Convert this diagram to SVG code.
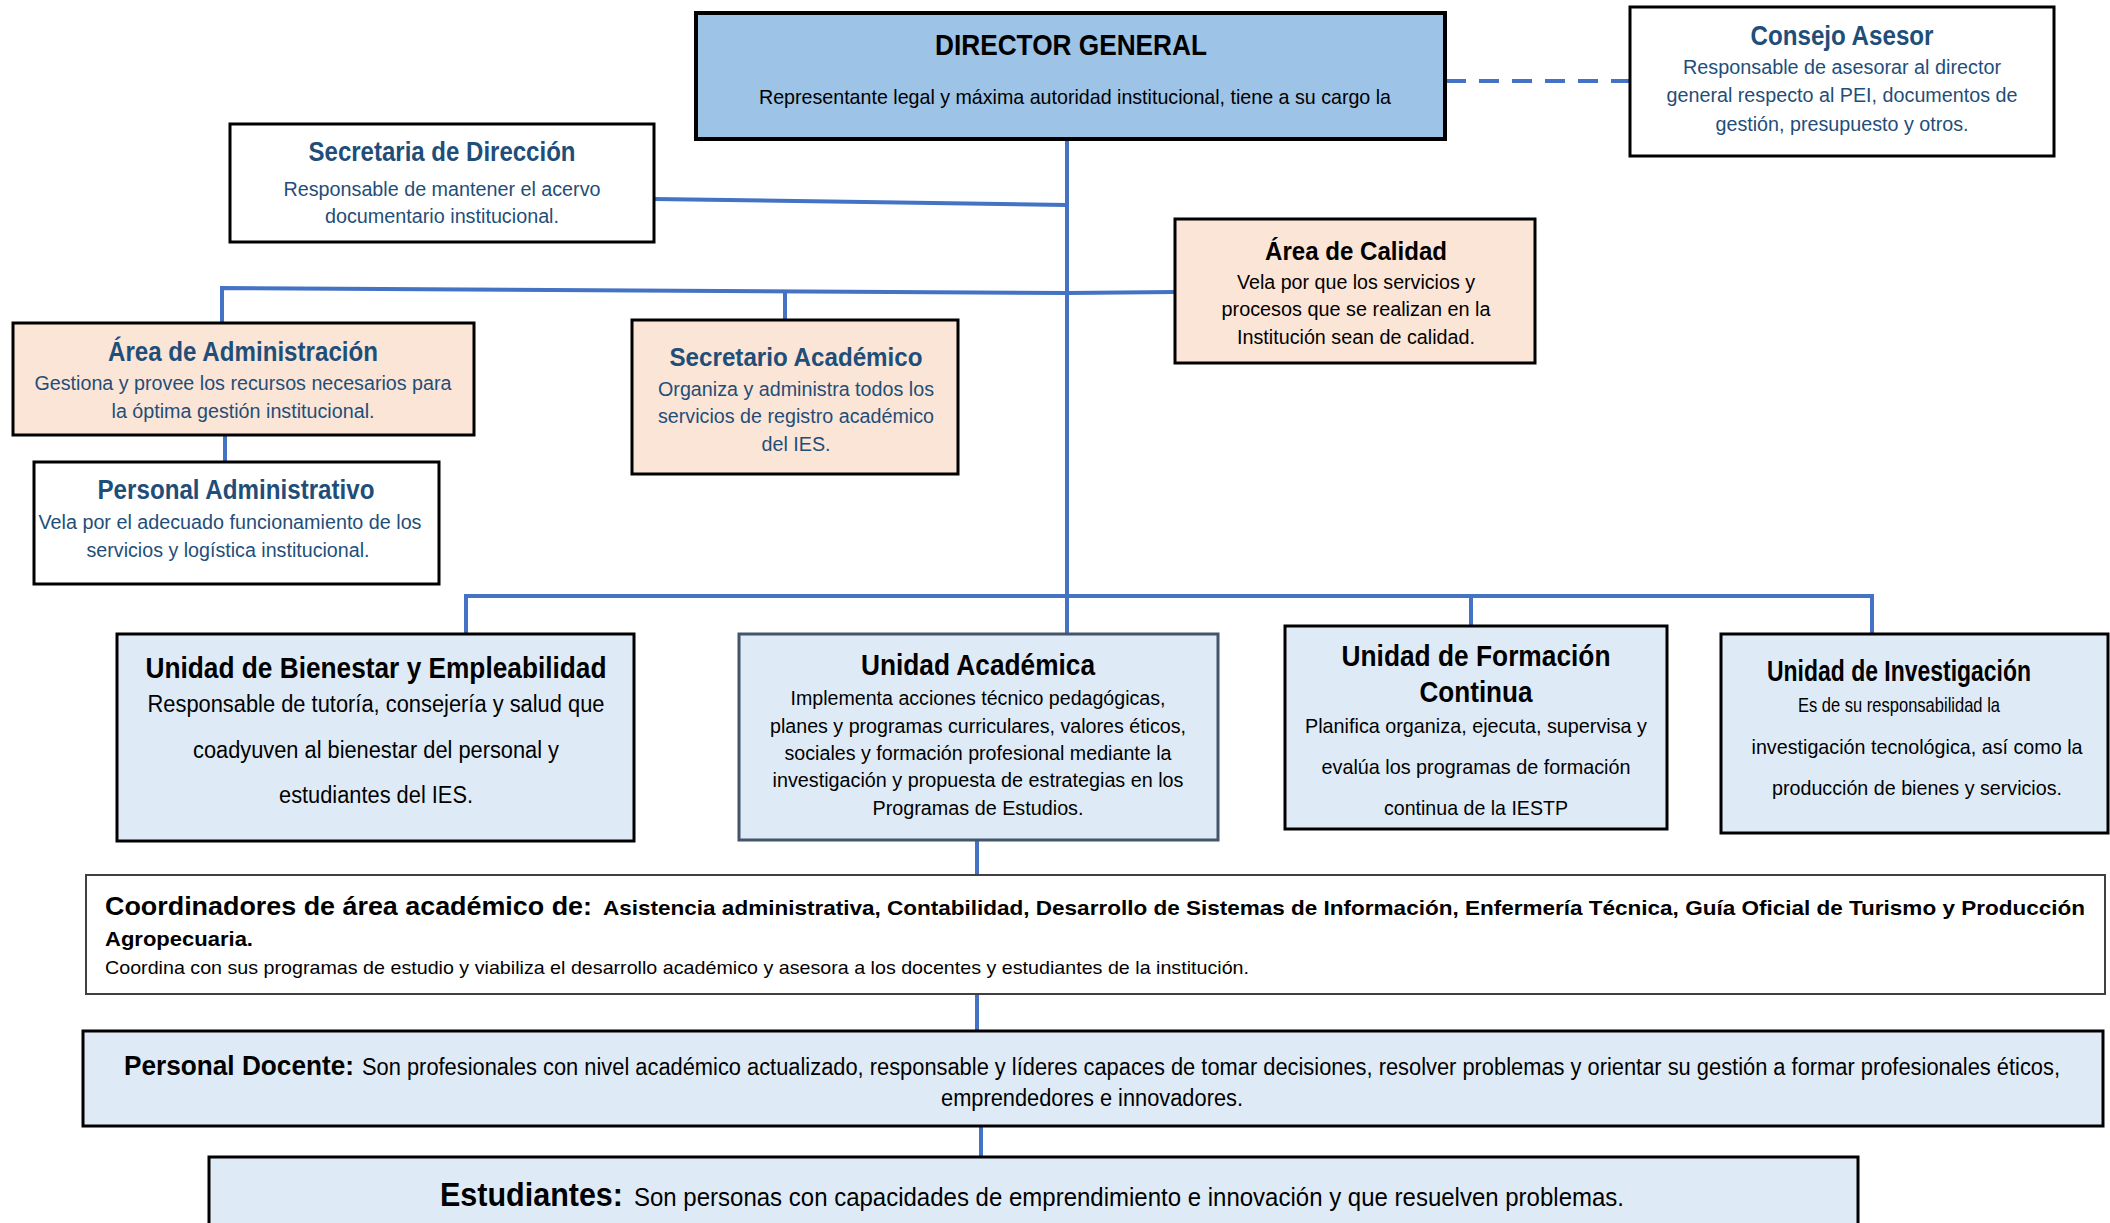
<svg xmlns="http://www.w3.org/2000/svg" width="2110" height="1223" viewBox="0 0 2110 1223">
<style>
text{font-family:"Liberation Sans Narrow","Arial Narrow","Liberation Sans",Arial,sans-serif;text-anchor:middle}
.b{font-weight:bold}
.db{fill:#1F4E79}
.k{fill:#000}
.st{text-anchor:start}
.box{stroke:#000;stroke-width:3}
.peach{fill:#FBE5D6}
.lblue{fill:#DEEBF7}
.white{fill:#fff}
.con{stroke:#4472C4;stroke-width:4;fill:none}
</style>
<rect width="2110" height="1223" fill="#fff"/>
<g id="connectors">
<line class="con" x1="1067" y1="140" x2="1067" y2="634"/>
<line class="con" x1="1446" y1="81" x2="1629" y2="81" stroke-dasharray="20,13"/>
<line class="con" x1="654" y1="199" x2="1067" y2="205"/>
<polyline class="con" points="222,323 222,288 1067,293 1175,292"/>
<line class="con" x1="785" y1="292" x2="785" y2="320"/>
<line class="con" x1="225" y1="435" x2="225" y2="462"/>
<polyline class="con" points="466,634 466,596 1872,596 1872,634"/>
<line class="con" x1="1471" y1="596" x2="1471" y2="626"/>
<line class="con" x1="977" y1="840" x2="977" y2="875"/>
<line class="con" x1="977" y1="994" x2="977" y2="1031"/>
<line class="con" x1="981" y1="1126" x2="981" y2="1157"/>
</g>
<g id="director-general">
<rect x="696" y="13" width="749" height="126" fill="#9DC3E6" stroke="#000" stroke-width="4"/>
<text class="b k" x="1071" y="55" font-size="30" textLength="272" lengthAdjust="spacingAndGlyphs">DIRECTOR GENERAL</text>
<text class="k" x="1075" y="104" font-size="21" textLength="632" lengthAdjust="spacingAndGlyphs">Representante legal y máxima autoridad institucional, tiene a su cargo la</text>
</g>
<g id="consejo-asesor">
<rect class="box white" x="1630" y="7" width="424" height="149"/>
<text class="b db" x="1842" y="45" font-size="27" textLength="183" lengthAdjust="spacingAndGlyphs">Consejo Asesor</text>
<text class="db" x="1842" y="74" font-size="20" textLength="318" lengthAdjust="spacingAndGlyphs">Responsable de asesorar al director</text>
<text class="db" x="1842" y="102" font-size="20" textLength="351" lengthAdjust="spacingAndGlyphs">general respecto al PEI, documentos de</text>
<text class="db" x="1842" y="131" font-size="20" textLength="253" lengthAdjust="spacingAndGlyphs">gestión, presupuesto y otros.</text>
</g>
<g id="secretaria-direccion">
<rect class="box white" x="230" y="124" width="424" height="118"/>
<text class="b db" x="442" y="161" font-size="27" textLength="267" lengthAdjust="spacingAndGlyphs">Secretaria de Dirección</text>
<text class="db" x="442" y="196" font-size="20" textLength="317" lengthAdjust="spacingAndGlyphs">Responsable de mantener el acervo</text>
<text class="db" x="442" y="223" font-size="20" textLength="234" lengthAdjust="spacingAndGlyphs">documentario institucional.</text>
</g>
<g id="area-administracion">
<rect class="box peach" x="13" y="323" width="461" height="112"/>
<text class="b db" x="243" y="361" font-size="27" textLength="270" lengthAdjust="spacingAndGlyphs">Área de Administración</text>
<text class="db" x="243" y="390" font-size="20" textLength="417" lengthAdjust="spacingAndGlyphs">Gestiona y provee los recursos necesarios para</text>
<text class="db" x="243" y="418" font-size="20" textLength="263" lengthAdjust="spacingAndGlyphs">la óptima gestión institucional.</text>
</g>
<g id="personal-administrativo">
<rect class="box white" x="34" y="462" width="405" height="122"/>
<text class="b db" x="236" y="499" font-size="27" textLength="277" lengthAdjust="spacingAndGlyphs">Personal Administrativo</text>
<text class="db" x="230" y="529" font-size="20" textLength="383" lengthAdjust="spacingAndGlyphs">Vela por el adecuado funcionamiento de los</text>
<text class="db" x="228" y="557" font-size="20" textLength="283" lengthAdjust="spacingAndGlyphs">servicios y logística institucional.</text>
</g>
<g id="secretario-academico">
<rect class="box peach" x="632" y="320" width="326" height="154"/>
<text class="b db" x="796" y="366" font-size="26" textLength="253" lengthAdjust="spacingAndGlyphs">Secretario Académico</text>
<text class="db" x="796" y="396" font-size="20" textLength="276" lengthAdjust="spacingAndGlyphs">Organiza y administra todos los</text>
<text class="db" x="796" y="423" font-size="20" textLength="276" lengthAdjust="spacingAndGlyphs">servicios de registro académico</text>
<text class="db" x="796" y="451" font-size="20" textLength="69" lengthAdjust="spacingAndGlyphs">del IES.</text>
</g>
<g id="area-calidad">
<rect class="box peach" x="1175" y="219" width="360" height="144"/>
<text class="b k" x="1356" y="260" font-size="26" textLength="182" lengthAdjust="spacingAndGlyphs">Área de Calidad</text>
<text class="k" x="1356" y="289" font-size="20" textLength="238" lengthAdjust="spacingAndGlyphs">Vela por que los servicios y</text>
<text class="k" x="1356" y="316" font-size="20" textLength="269" lengthAdjust="spacingAndGlyphs">procesos que se realizan en la</text>
<text class="k" x="1356" y="344" font-size="20" textLength="238" lengthAdjust="spacingAndGlyphs">Institución sean de calidad.</text>
</g>
<g id="unidad-bienestar">
<rect class="box lblue" x="117" y="634" width="517" height="207"/>
<text class="b k" x="376" y="678" font-size="29" textLength="461" lengthAdjust="spacingAndGlyphs">Unidad de Bienestar y Empleabilidad</text>
<text class="k" x="376" y="712" font-size="23" textLength="457" lengthAdjust="spacingAndGlyphs">Responsable de tutoría, consejería y salud que</text>
<text class="k" x="376" y="758" font-size="23" textLength="366" lengthAdjust="spacingAndGlyphs">coadyuven al bienestar del personal y</text>
<text class="k" x="376" y="803" font-size="23" textLength="194" lengthAdjust="spacingAndGlyphs">estudiantes del IES.</text>
</g>
<g id="unidad-academica">
<rect x="739" y="634" width="479" height="206" fill="#DEEBF7" stroke="#44546A" stroke-width="3"/>
<text class="b k" x="978" y="675" font-size="29" textLength="234" lengthAdjust="spacingAndGlyphs">Unidad Académica</text>
<text class="k" x="978" y="705" font-size="20" textLength="375" lengthAdjust="spacingAndGlyphs">Implementa acciones técnico pedagógicas,</text>
<text class="k" x="978" y="733" font-size="20" textLength="416" lengthAdjust="spacingAndGlyphs">planes y programas curriculares, valores éticos,</text>
<text class="k" x="978" y="760" font-size="20" textLength="387" lengthAdjust="spacingAndGlyphs">sociales y formación profesional mediante la</text>
<text class="k" x="978" y="787" font-size="20" textLength="411" lengthAdjust="spacingAndGlyphs">investigación y propuesta de estrategias en los</text>
<text class="k" x="978" y="815" font-size="20" textLength="211" lengthAdjust="spacingAndGlyphs">Programas de Estudios.</text>
</g>
<g id="unidad-formacion">
<rect class="box lblue" x="1285" y="626" width="382" height="203"/>
<text class="b k" x="1476" y="666" font-size="29" textLength="269" lengthAdjust="spacingAndGlyphs">Unidad de Formación</text>
<text class="b k" x="1476" y="702" font-size="29" textLength="113" lengthAdjust="spacingAndGlyphs">Continua</text>
<text class="k" x="1476" y="733" font-size="21" textLength="342" lengthAdjust="spacingAndGlyphs">Planifica organiza, ejecuta, supervisa y</text>
<text class="k" x="1476" y="774" font-size="21" textLength="309" lengthAdjust="spacingAndGlyphs">evalúa los programas de formación</text>
<text class="k" x="1476" y="815" font-size="21" textLength="184" lengthAdjust="spacingAndGlyphs">continua de la IESTP</text>
</g>
<g id="unidad-investigacion">
<rect class="box lblue" x="1721" y="634" width="387" height="199"/>
<text class="b k" x="1899" y="681" font-size="29" textLength="264" lengthAdjust="spacingAndGlyphs">Unidad de Investigación</text>
<text class="k" x="1899" y="712" font-size="21" textLength="202" lengthAdjust="spacingAndGlyphs">Es de su responsabilidad la</text>
<text class="k" x="1917" y="754" font-size="21" textLength="331" lengthAdjust="spacingAndGlyphs">investigación tecnológica, así como la</text>
<text class="k" x="1917" y="795" font-size="21" textLength="290" lengthAdjust="spacingAndGlyphs">producción de bienes y servicios.</text>
</g>
<g id="coordinadores">
<rect x="86" y="875" width="2019" height="119" fill="#fff" stroke="#404040" stroke-width="2"/>
<text class="b k st" x="105" y="915" font-size="26" textLength="487" lengthAdjust="spacingAndGlyphs">Coordinadores de área académico de:</text>
<text class="b k st" x="603" y="915" font-size="21" textLength="1482" lengthAdjust="spacingAndGlyphs">Asistencia administrativa, Contabilidad, Desarrollo de Sistemas de Información, Enfermería Técnica, Guía Oficial de Turismo y Producción</text>
<text class="b k st" x="105" y="946" font-size="21" textLength="148" lengthAdjust="spacingAndGlyphs">Agropecuaria.</text>
<text class="k st" x="105" y="974" font-size="19" textLength="1144" lengthAdjust="spacingAndGlyphs">Coordina con sus programas de estudio y viabiliza el desarrollo académico y asesora a los docentes y estudiantes de la institución.</text>
</g>
<g id="personal-docente">
<rect class="box lblue" x="83" y="1031" width="2020" height="95"/>
<text class="b k st" x="124" y="1075" font-size="28" textLength="230" lengthAdjust="spacingAndGlyphs">Personal Docente:</text>
<text class="k st" x="362" y="1075" font-size="23" textLength="1698" lengthAdjust="spacingAndGlyphs">Son profesionales con nivel académico actualizado, responsable y líderes capaces de tomar decisiones, resolver problemas y orientar su gestión a formar profesionales éticos,</text>
<text class="k" x="1092" y="1106" font-size="23" textLength="302" lengthAdjust="spacingAndGlyphs">emprendedores e innovadores.</text>
</g>
<g id="estudiantes">
<rect class="box lblue" x="209" y="1157" width="1649" height="80"/>
<text class="b k st" x="440" y="1206" font-size="33" textLength="183" lengthAdjust="spacingAndGlyphs">Estudiantes:</text>
<text class="k st" x="634" y="1206" font-size="25" textLength="990" lengthAdjust="spacingAndGlyphs">Son personas con capacidades de emprendimiento e innovación y que resuelven problemas.</text>
</g>
</svg>
